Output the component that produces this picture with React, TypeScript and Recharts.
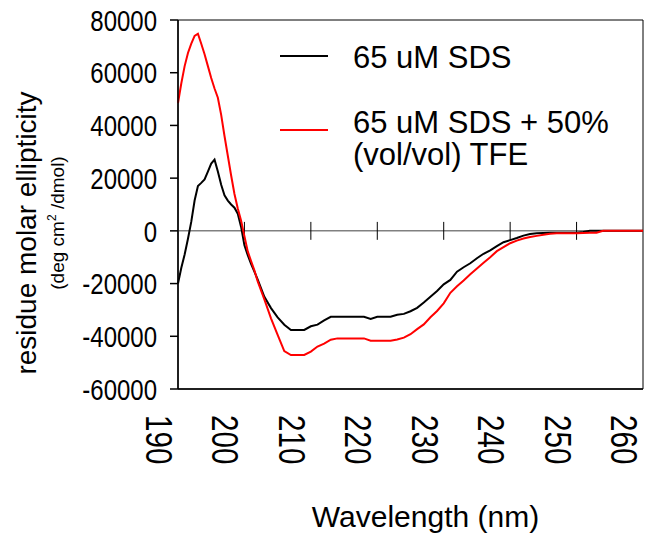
import { Legend, Line, LineChart, ReferenceArea, ReferenceLine, XAxis, YAxis } from 'recharts'

const WAVELENGTH = [
  190, 190.5, 191, 191.5, 192, 192.5, 193, 193.5, 194, 194.5, 195, 195.5, 196, 196.5, 197, 197.5, 198, 198.5, 199,
  199.5, 200, 200.5, 201, 201.5, 202, 203, 204, 205, 206, 207, 208, 209, 210, 211, 212, 213, 214, 215, 216, 217, 218,
  219, 220, 221, 222, 223, 224, 225, 226, 227, 228, 229, 230, 231, 232, 233, 234, 235, 236, 237, 238, 239, 240, 241,
  242, 243, 244, 245, 246, 247, 248, 249, 250, 251, 252, 253, 254, 255, 256, 257, 258, 259, 260,
]

// 65 uM SDS
const SDS = [
  -20000, -14000, -9000, -3000, 3500, 11500, 17000, 18200, 19500, 22500, 25500, 27000, 22500, 17500, 13500, 11500,
  10000, 8800, 6500, 1500, -5500, -9200, -12500, -15500, -18500, -25000, -29300, -32800, -35600, -37600, -37600,
  -37600, -36200, -35600, -34000, -32600, -32600, -32600, -32600, -32600, -32600, -33400, -32600, -32600, -32600,
  -31800, -31500, -30500, -29200, -27200, -25000, -22800, -20300, -18600, -15500, -13800, -12300, -10400, -8700,
  -7400, -5800, -4300, -3500, -2700, -1800, -1200, -900, -800, -700, -700, -700, -700, -700, -400, 0, 0, 0, 0, 0, 0,
  0, 0, 0,
]

// 65 uM SDS + 50% TFE
const SDS_TFE = [
  48500, 56000, 62500, 67500, 71000, 74000, 74800, 71000, 67000, 62500, 58000, 54000, 50500, 44000, 36000, 28500,
  21000, 14000, 8500, 3800, -2000, -7800, -11500, -15000, -19200, -26000, -33200, -39500, -45600, -47100, -47100,
  -47100, -45800, -43900, -42800, -41300, -40800, -40800, -40800, -40800, -40800, -41700, -41700, -41700, -41700,
  -41200, -40500, -39200, -37300, -35500, -32800, -30400, -27500, -23500, -21000, -18800, -16500, -14300, -12100,
  -10000, -7700, -6200, -4700, -3700, -2900, -2300, -1900, -1500, -1100, -900, -900, -900, -900, -800, -700, -700, 0,
  0, 0, 0, 0, 0, 0,
]

const X_TICKS = [190, 200, 210, 220, 230, 240, 250, 260]
const Y_TICKS = [-60000, -40000, -20000, 0, 20000, 40000, 60000, 80000]
const ZERO_TICKS = [200, 210, 220, 230, 240, 250]

const FONT = '"Liberation Sans", Arial, sans-serif'

const data = WAVELENGTH.map((w, i) => ({ wl: w, sds: SDS[i], tfe: SDS_TFE[i] }))

function XTick({ x, y, payload }: any) {
  return (
    <text
      transform={`translate(${x - 32},${y + 24}) rotate(90) scale(0.8,1)`}
      fontFamily={FONT}
      fontSize={37}
      fill="#000"
      textAnchor="start"
    >
      {payload.value}
    </text>
  )
}

function YTick({ x, y, payload }: any) {
  return (
    <text
      transform={`translate(${x - 11},${y}) scale(0.8,1)`}
      fontFamily={FONT}
      fontSize={30}
      fill="#000"
      textAnchor="end"
      dy="0.355em"
    >
      {payload.value}
    </text>
  )
}

function XLabel({ viewBox }: any) {
  const cx = viewBox.x + viewBox.width / 2 + 15
  return (
    <text x={cx} y={527} fontFamily={FONT} fontSize={30} fill="#000" textAnchor="middle">
      Wavelength (nm)
    </text>
  )
}

function YLabel() {
  return (
    <g fontFamily={FONT} fill="#000">
      <text transform="translate(36,233) rotate(-90)" fontSize={28} textAnchor="middle">
        residue molar ellipticity
      </text>
      <text transform="translate(64,223) rotate(-90)" fontSize={19} textAnchor="middle">
        (deg cm<tspan fontSize={12} dy={-8}>2</tspan>
        <tspan dy={8}> /dmol)</tspan>
      </text>
    </g>
  )
}

function LegendBox() {
  const text = { position: 'absolute' as const, left: 353, fontFamily: FONT, fontSize: 31, color: '#000', whiteSpace: 'nowrap' as const }
  return (
    <div style={{ position: 'relative', width: 652, height: 200 }}>
      <div style={{ position: 'absolute', left: 280, top: 55, width: 48, height: 2, background: '#000' }} />
      <div style={{ ...text, top: 42, lineHeight: '32px' }}>65 uM SDS</div>
      <div style={{ position: 'absolute', left: 280, top: 129, width: 48, height: 2, background: '#ff0000' }} />
      <div style={{ ...text, top: 107, lineHeight: '32px' }}>
        65 uM SDS + 50%
        <br />
        (vol/vol) TFE
      </div>
    </div>
  )
}

export default function App() {
  return (
    <div style={{ position: 'absolute', left: 0, top: 0, background: '#fff' }}>
      <LineChart width={652} height={537} data={data} margin={{ top: 20, right: 9, left: 0, bottom: 0 }}>
        <XAxis
          dataKey="wl"
          type="number"
          domain={[190, 260]}
          ticks={X_TICKS}
          interval={0}
          height={148}
          tickLine={false}
          tickSize={0}
          axisLine={{ stroke: '#000', strokeWidth: 1.5 }}
          tick={<XTick />}
          label={<XLabel />}
        />
        <YAxis
          type="number"
          domain={[-60000, 80000]}
          ticks={Y_TICKS}
          interval={0}
          width={178}
          tickSize={8}
          tickLine={{ stroke: '#000', strokeWidth: 1.5 }}
          axisLine={{ stroke: '#000', strokeWidth: 1.5 }}
          tick={<YTick />}
          label={<YLabel />}
        />
        <ReferenceArea
          x1={190}
          x2={260}
          y1={-60000}
          y2={80000}
          fill="none"
          fillOpacity={0}
          stroke="#000"
          strokeWidth={1}
          ifOverflow="visible"
        />
        <ReferenceLine y={0} stroke="#808080" strokeWidth={1.5} />
        {ZERO_TICKS.map((t) => (
          <ReferenceLine
            key={t}
            segment={[
              { x: t, y: -3400 },
              { x: t, y: 3400 },
            ]}
            stroke="#000"
            strokeWidth={1}
          />
        ))}
        <Line dataKey="sds" stroke="#000" strokeWidth={2} dot={false} isAnimationActive={false} />
        <Line dataKey="tfe" stroke="#ff0000" strokeWidth={2} dot={false} isAnimationActive={false} />
        <Legend
          layout="vertical"
          align="center"
          verticalAlign="middle"
          wrapperStyle={{ position: 'absolute', left: 0, top: 0, width: 652, height: 200 }}
          content={() => <LegendBox />}
        />
      </LineChart>
    </div>
  )
}
